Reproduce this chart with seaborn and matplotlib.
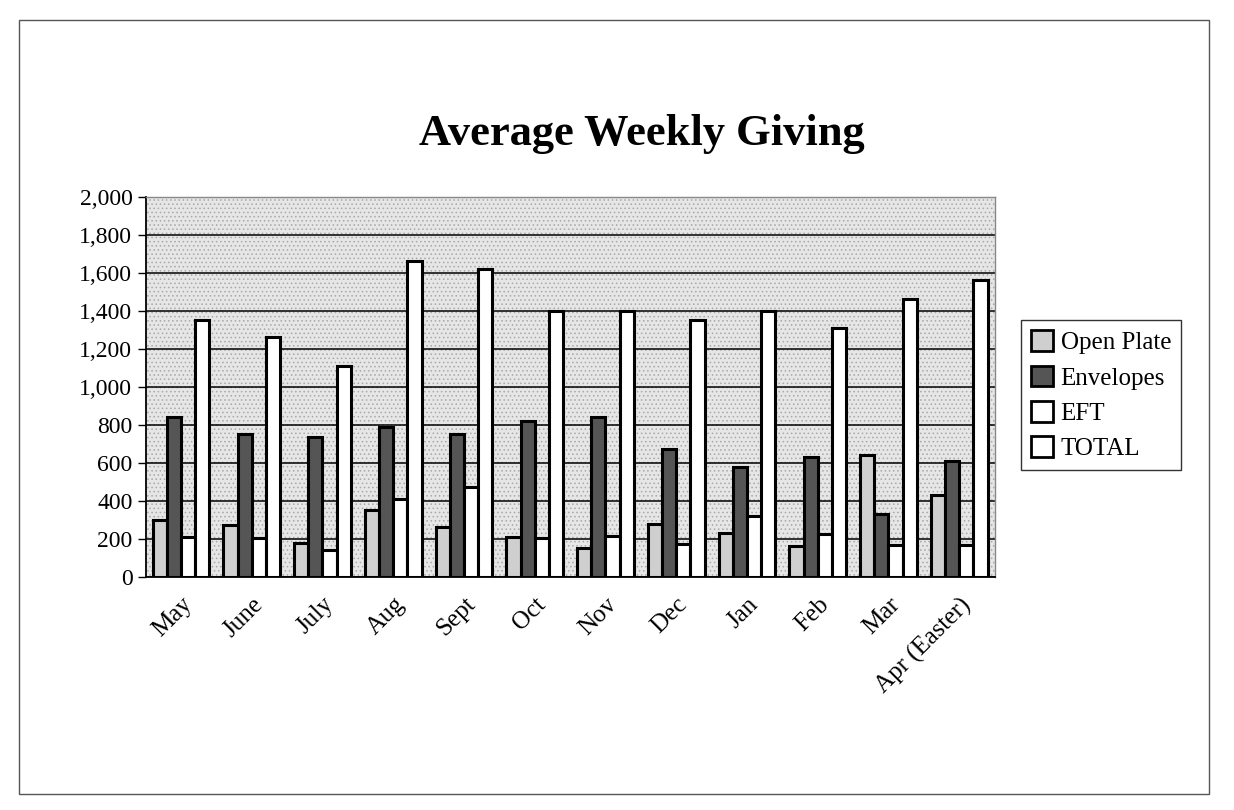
import pandas as pd
import numpy as np
import matplotlib
matplotlib.use("Agg")
import matplotlib.pyplot as plt
import seaborn as sns
from matplotlib.patches import Patch, Rectangle
from matplotlib.ticker import FuncFormatter

months = ["May", "June", "July", "Aug", "Sept", "Oct", "Nov", "Dec",
          "Jan", "Feb", "Mar", "Apr (Easter)"]
open_plate = [300, 270, 175, 350, 260, 210, 150, 280, 230, 160, 640, 430]
envelopes = [840, 750, 735, 790, 750, 820, 840, 670, 580, 630, 330, 610]
eft = [210, 205, 140, 410, 470, 205, 215, 170, 320, 225, 165, 165]
total = [1350, 1260, 1110, 1660, 1620, 1400, 1400, 1350, 1400, 1310, 1460, 1560]
series = ["Open Plate", "Envelopes", "EFT", "TOTAL"]

df = pd.DataFrame({"Month": months, "Open Plate": open_plate, "Envelopes": envelopes,
                   "EFT": eft, "TOTAL": total})
long = df.melt(id_vars="Month", var_name="Series", value_name="Value")

sns.set_style("white")
plt.rcParams["font.family"] = ["Liberation Serif", "DejaVu Serif"]
plt.rcParams["text.color"] = "black"
plt.rcParams["xtick.color"] = "black"
plt.rcParams["ytick.color"] = "black"
plt.rcParams["axes.labelcolor"] = "black"

colors = ["#cfcfcf", "#555555", "#ffffff", "#ffffff"]

fig = plt.figure(figsize=(12.34, 8.10), dpi=100)
ax = fig.add_axes([0.118, 0.288, 0.688, 0.469])

# stippled plot-area background, like the old Excel pattern fill
ax.set_facecolor("#e6e6e6")
plt.rcParams["hatch.linewidth"] = 0.6
ax.add_patch(Rectangle((0, 0), 1, 1, transform=ax.transAxes, facecolor="none",
                       edgecolor="#a8a8a8", hatch="....", linewidth=0, zorder=0))

sns.barplot(data=long, x="Month", y="Value", hue="Series", hue_order=series,
            palette=colors, edgecolor="black", linewidth=2.2, width=0.8,
            saturation=1, legend=False, ax=ax, zorder=3)

ax.set_ylim(0, 2000)
ax.set_xlim(-0.5, len(months) - 0.5)
ax.set_yticks(range(0, 2001, 200))
ax.yaxis.set_major_formatter(FuncFormatter(lambda v, p: f"{int(v):,}"))
ax.grid(axis="y", color="black", linewidth=1.1, zorder=1)
ax.set_axisbelow(True)

# Excel style: tick marks between categories
ax.set_xticks(range(len(months)))
ax.set_xticklabels(months, rotation=45, ha="right", rotation_mode="anchor", fontsize=18)
ax.set_xticks(np.arange(-0.5, len(months)), minor=True)
ax.tick_params(axis="x", which="major", length=0, pad=12)
ax.tick_params(axis="x", which="minor", length=7, width=1, color="black", direction="out")
ax.tick_params(axis="y", labelsize=17, length=6, width=1, direction="out", left=True)

ax.set_xlabel("")
ax.set_ylabel("")
for s in ["left", "bottom"]:
    ax.spines[s].set_color("black")
    ax.spines[s].set_linewidth(1.3)
for s in ["top", "right"]:
    ax.spines[s].set_color("#888888")
    ax.spines[s].set_linewidth(1)

fig.text(0.52, 0.835, "Average Weekly Giving", ha="center", va="center",
         fontsize=32, fontweight="bold")

handles = [Patch(facecolor=c, edgecolor="black", linewidth=2) for c in colors]
leg = fig.legend(handles, series, loc="upper left", bbox_to_anchor=(0.817, 0.62),
                 fontsize=18, handlelength=0.9, handleheight=0.9, handletextpad=0.3,
                 labelspacing=0.45, borderpad=0.4, frameon=True, fancybox=False,
                 edgecolor="black")
leg.get_frame().set_linewidth(1)

# outer chart border
fig.patches.append(Rectangle((0.015, 0.02), 0.965, 0.955, transform=fig.transFigure,
                             fill=False, edgecolor="#555555", linewidth=1))

fig.savefig("out.png", dpi=100)
